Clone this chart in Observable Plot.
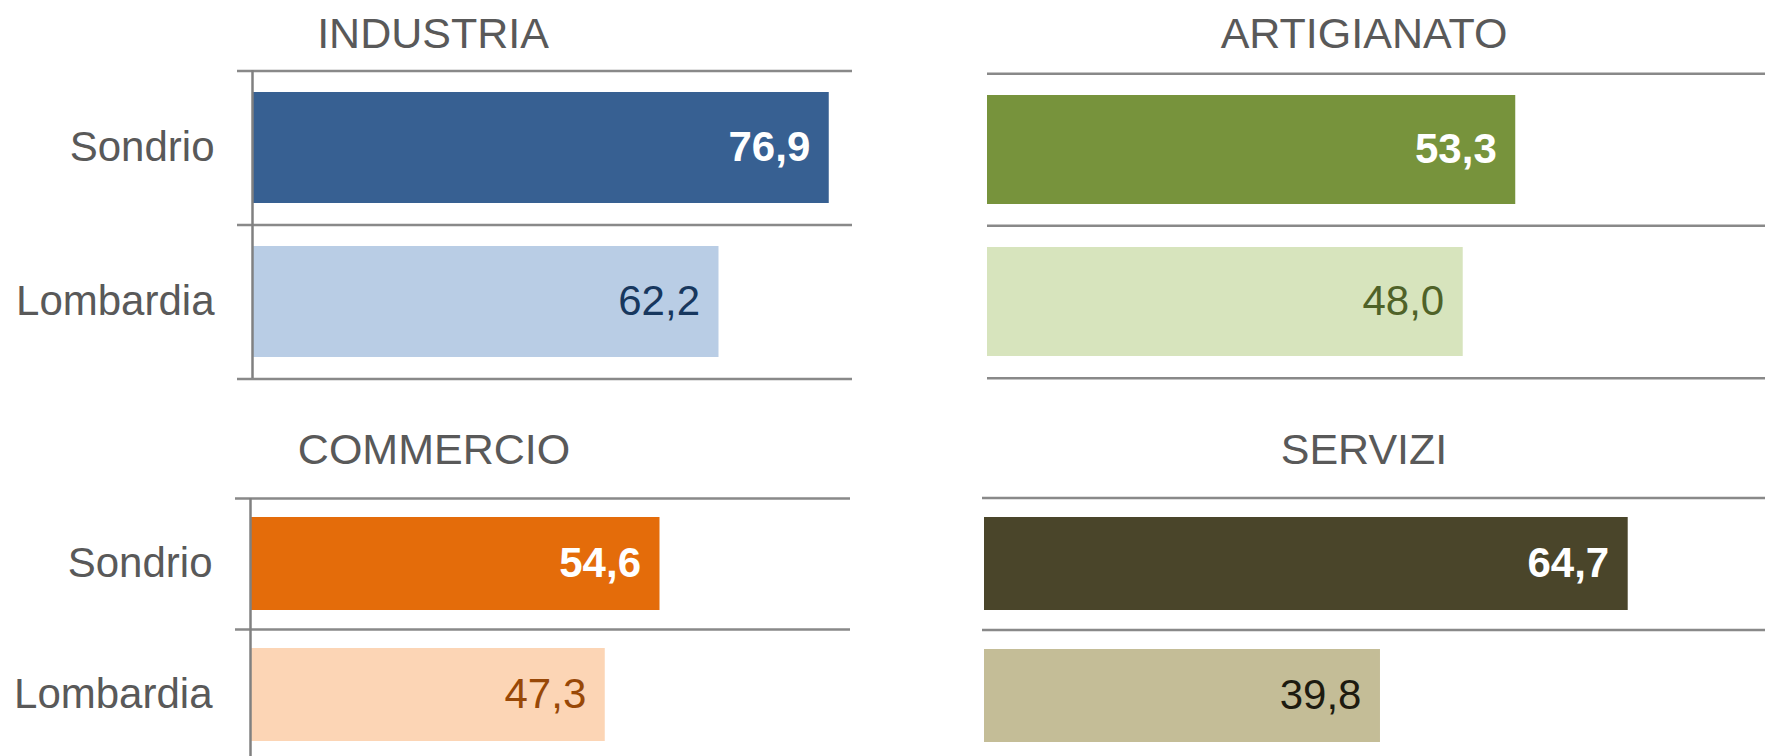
<!DOCTYPE html>
<html>
<head>
<meta charset="utf-8">
<script src="https://cdn.jsdelivr.net/npm/d3@7"></script>
<script src="https://cdn.jsdelivr.net/npm/@observablehq/plot@0.6"></script>
<style>
  body { margin: 0; background: #fff; }
  #wrap { position: relative; width: 1765px; height: 756px; overflow: hidden; background: #fff;
          font-family: "Liberation Sans", Arial, sans-serif; }
  .panel { position: absolute; }
  .title { position: absolute; font-size: 43px; line-height: 43px; color: #595959;
           white-space: nowrap; transform: translateX(-50%); }
</style>
</head>
<body>
<div id="wrap"></div>
<script>
// ---- data ----
const sectors = ["INDUSTRIA", "ARTIGIANATO", "COMMERCIO", "SERVIZI"];
const regions = ["Sondrio", "Lombardia"];
const sondrioValues = [76.9, 53.3, 54.6, 64.7];
const lombardiaValues = [62.2, 48.0, 47.3, 39.8];
const darkFills = ["#376092", "#77933C", "#E46C0A", "#4A452A"];
const lightFills = ["#B9CDE5", "#D7E4BD", "#FCD5B5", "#C4BD97"];
const lightLabelColors = ["#17375E", "#4F6228", "#984807", "#1D1B10"];

// ---- layout ----
const layout = [
  {left: 0,   top: 0,   width: 870, height: 400, mt: 70, mb: 22, ml: 237, mr: 18, inset: 15, xmax: 80,   pad: 0.28,  axis: true,  tx: 433,  ty: 12},
  {left: 870, top: 0,   width: 895, height: 400, mt: 73, mb: 22, ml: 117, mr: 0,  inset: 0,  xmax: 78.5, pad: 0.285, axis: false, tx: 1364, ty: 12},
  {left: 0,   top: 400, width: 870, height: 380, mt: 98, mb: 20, ml: 235, mr: 20, inset: 15, xmax: 80,   pad: 0.29,  axis: true,  tx: 434,  ty: 428},
  {left: 870, top: 400, width: 895, height: 380, mt: 98, mb: 18, ml: 112, mr: 0,  inset: 2,  xmax: 78.5, pad: 0.295, axis: false, tx: 1364, ty: 428}
];

const fmt = d3.formatLocale({decimal: ",", thousands: ".", grouping: [3], currency: ["", "€"]}).format(".1f");
const wrap = document.getElementById("wrap");
const FONT = '"Liberation Sans", Arial, sans-serif';

sectors.forEach((sector, i) => {
  const L = layout[i];
  const data = regions.map((r, j) => ({region: r, value: j === 0 ? sondrioValues[i] : lombardiaValues[i]}));
  const step = (L.height - L.mt - L.mb) / regions.length;

  const chart = Plot.plot({
    width: L.width, height: L.height,
    marginTop: L.mt, marginBottom: L.mb, marginLeft: L.ml, marginRight: L.mr,
    style: {fontFamily: FONT, fontSize: "42px", color: "#595959", background: "transparent", overflow: "visible"},
    x: {domain: [0, L.xmax], insetLeft: L.inset, axis: null},
    y: {type: "band", domain: regions, paddingInner: L.pad, paddingOuter: L.pad / 2,
        axis: L.axis ? "left" : null, tickSize: 0, tickPadding: 23, label: null},
    color: {domain: regions, range: [darkFills[i], lightFills[i]]},
    marks: [
      Plot.barX(data, {x: "value", y: "region", fill: "region"}),
      Plot.ruleY(regions, {dy: -step / 2, stroke: "#898989", strokeWidth: 2.5}),
      Plot.ruleY(regions.slice(-1), {dy: step / 2, stroke: "#898989", strokeWidth: 2.5}),
      L.axis ? Plot.ruleX([0], {stroke: "#808080", strokeWidth: 2.5}) : null,
      Plot.text(data.filter(d => d.region === "Sondrio"), {
        x: "value", y: "region", text: d => fmt(d.value), textAnchor: "end", dx: -19,
        fill: "white", fontWeight: "bold", fontSize: 42
      }),
      Plot.text(data.filter(d => d.region === "Lombardia"), {
        x: "value", y: "region", text: d => fmt(d.value), textAnchor: "end", dx: -19,
        fill: lightLabelColors[i], fontSize: 42
      })
    ]
  });

  const holder = document.createElement("div");
  holder.className = "panel";
  holder.style.left = L.left + "px";
  holder.style.top = L.top + "px";
  holder.appendChild(chart);
  wrap.appendChild(holder);

  const title = document.createElement("div");
  title.className = "title";
  title.style.left = L.tx + "px";
  title.style.top = L.ty + "px";
  title.textContent = sector;
  wrap.appendChild(title);
});
</script>
</body>
</html>
